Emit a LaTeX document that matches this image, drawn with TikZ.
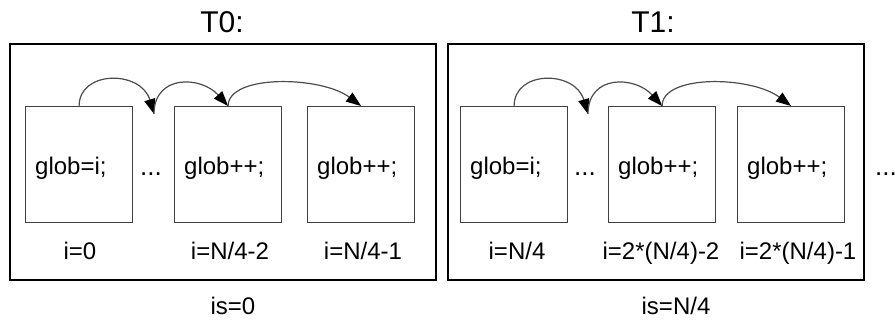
\documentclass[tikz,border=0pt]{standalone}
\usepackage{fontspec}
\setmainfont{Liberation Sans}
\usetikzlibrary{arrows.meta}
\tikzset{
  frame/.style={draw=black,line width=2pt},
  cell/.style={draw=black!75,line width=1.2pt,rectangle,minimum width=107pt,minimum height=116pt,inner sep=0pt,anchor=north west},
  code/.style={anchor=base west,inner sep=0pt,font=\fontsize{24}{28}\selectfont},
  dots/.style={anchor=base west,inner sep=0pt,font=\fontsize{26}{28}\selectfont},
  lbl/.style={anchor=base,inner sep=0pt,font=\fontsize{24}{28}\selectfont},
  ttl/.style={anchor=base,inner sep=0pt,font=\fontsize{30}{34}\selectfont},
  arr/.style={draw=black!70,line width=1.2pt,-{Triangle[length=15pt,width=11pt,color=black,fill=black]}}
}
\begin{document}
\begin{tikzpicture}[x=1pt,y=1pt]
\useasboundingbox (0,0) rectangle (895,-322);
% left panel
\draw[frame] (10,-44) rectangle (436,-280);
\node[cell] (A1) at (25,-106) {};
\node[cell] (A2) at (174,-106) {};
\node[cell] (A3) at (307,-106) {};
\node[code] (ta1) at (35,-174) {glob=i;};
\node[code] (ta2) at (184,-174) {glob++;};
\node[code] (ta3) at (317,-174) {glob++;};
\node[dots] (da) at (140,-175) {...};
\node[lbl] (la1) at (80,-259) {i=0};
\node[lbl] (la2) at (230,-259) {i=N/4-2};
\node[lbl] (la3) at (363,-259) {i=N/4-1};
\node[lbl] (isa) at (233,-314) {is=0};
\node[ttl] (T0) at (222,-32) {T0:};
\coordinate (g1) at (154,-114);
\draw[arr] (A1.north) .. controls +(0,36) and +(-13,44) .. (g1);
\draw[arr] (g1) .. controls +(0,40) and +(-27,30) .. (A2.north);
\draw[arr] (A2.north) .. controls +(0,32) and +(-40,30) .. (A3.north);
% right panel
\draw[frame] (448,-44) rectangle (864,-280);
\node[cell] (B1) at (460,-106) {};
\node[cell] (B2) at (608,-106) {};
\node[cell] (B3) at (737,-106) {};
\node[code] (tb1) at (470,-174) {glob=i;};
\node[code] (tb2) at (618,-174) {glob++;};
\node[code] (tb3) at (747,-174) {glob++;};
\node[dots] (db) at (574,-175) {...};
\node[dots] (dc) at (875,-175) {...};
\node[lbl] (lb1) at (517,-259) {i=N/4};
\node[lbl] (lb2) at (661,-259) {i=2*(N/4)-2};
\node[lbl] (lb3) at (798,-259) {i=2*(N/4)-1};
\node[lbl] (isb) at (676,-314) {is=N/4};
\node[ttl] (T1) at (653,-32) {T1:};
\coordinate (g2) at (588,-114);
\draw[arr] (B1.north) .. controls +(0,36) and +(-13,44) .. (g2);
\draw[arr] (g2) .. controls +(0,40) and +(-27,30) .. (B2.north);
\draw[arr] (B2.north) .. controls +(0,32) and +(-40,30) .. (B3.north);
\end{tikzpicture}
\end{document}
